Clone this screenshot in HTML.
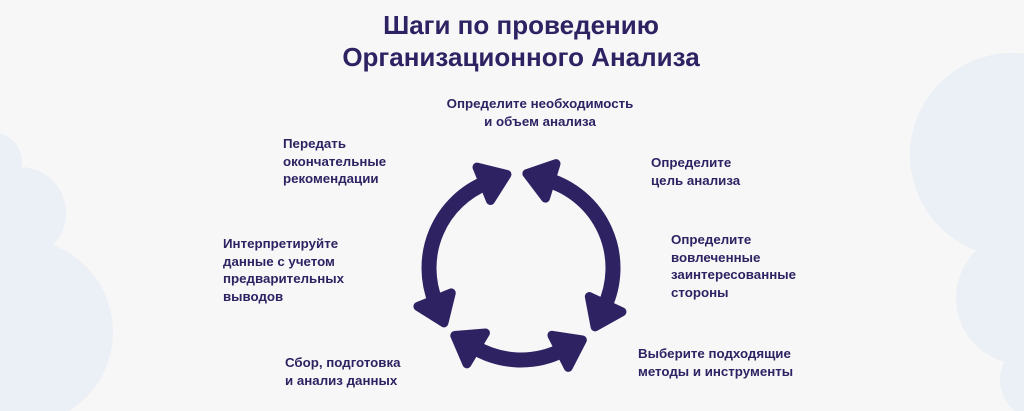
<!DOCTYPE html>
<html><head><meta charset="utf-8">
<style>
html,body{margin:0;padding:0}
body{width:1024px;height:411px;overflow:hidden;background:#f7f7f7;position:relative;font-family:"Liberation Sans","DejaVu Sans",sans-serif;color:#2e2263}
svg{position:absolute;left:0;top:0}
.t{position:absolute;font-weight:bold;font-size:13.3px;line-height:17.5px;white-space:nowrap}
.title{position:absolute;left:0;width:1042px;text-align:center;font-weight:bold;font-size:26px;line-height:32px;top:9px}
</style></head><body>
<svg width="1024" height="411" id="s">
<g fill="#ebeff6">
<circle cx="1012" cy="155" r="102"/>
<circle cx="1022" cy="298" r="66"/>
<circle cx="1040" cy="380" r="40"/>
<circle cx="-8" cy="162" r="30"/>
<circle cx="20" cy="213" r="46"/>
<circle cx="20" cy="332" r="93"/>
</g>
</svg>
<div class="title">Шаги по проведению<br>Организационного Анализа</div>
<div class="t" style="left:440px;top:95px;width:200px;text-align:center">Определите необходимость<br>и объем анализа</div>
<div class="t" style="left:283px;top:135px">Передать<br>окончательные<br>рекомендации</div>
<div class="t" style="left:651px;top:154px">Определите<br>цель анализа</div>
<div class="t" style="left:223px;top:235px">Интерпретируйте<br>данные с учетом<br>предварительных<br>выводов</div>
<div class="t" style="left:671px;top:231px">Определите<br>вовлеченные<br>заинтересованные<br>стороны</div>
<div class="t" style="left:638px;top:345px">Выберите подходящие<br>методы и инструменты</div>
<div class="t" style="left:285px;top:354px">Сбор, подготовка<br>и анализ данных</div>
<script>
(function(){
var s=document.getElementById('s'),cx=521,cy=268,r=92,C='#2e2263';
function P(a){a=a*Math.PI/180;return [cx+r*Math.cos(a),cy+r*Math.sin(a)];}
function add(tag,at){var e=document.createElementNS('http://www.w3.org/2000/svg',tag);for(var k in at)e.setAttribute(k,at[k]);s.appendChild(e);}
function head(aEnd,dir){
  var a=aEnd*Math.PI/180,b=P(aEnd);
  var tx=-Math.sin(a)*dir,ty=Math.cos(a)*dir;
  var nx=Math.cos(a),ny=Math.sin(a);
  var L=22,W=18;
  var tip=[b[0]+tx*L,b[1]+ty*L];
  var p1=[b[0]+nx*W-tx*3,b[1]+ny*W-ty*3],p2=[b[0]-nx*W-tx*3,b[1]-ny*W-ty*3];
  add('polygon',{points:tip+' '+p1+' '+p2,fill:C,stroke:C,'stroke-width':9,'stroke-linejoin':'round'});
}
function arc(a1,a2){
  var p=P(a1),q=P(a2);
  add('path',{d:'M'+p+' A'+r+' '+r+' 0 0 1 '+q,fill:'none',stroke:C,'stroke-width':15});
  head(a2,1);head(a1,-1);
}
arc(-73,25);
arc(63,121);
arc(158,248);
})();
</script>
</body></html>
